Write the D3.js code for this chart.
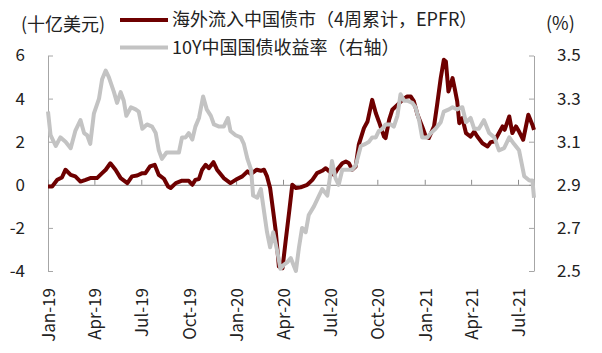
<!DOCTYPE html>
<html>
<head>
<meta charset="utf-8">
<script src="https://cdn.jsdelivr.net/npm/d3@7"></script>
<style>
  body { margin: 0; background: #fff; }
  text { font-family: "Noto Sans CJK SC", "Noto Sans", sans-serif; fill: #222; }
</style>
</head>
<body>
<div id="chart"></div>
<script>
// foreign inflows into China bonds (4wk cumulative, bn USD) and 10Y CGB yield (%)
var flowDates = ["2019-01-01","2019-01-09","2019-01-19","2019-01-28","2019-02-04","2019-02-14","2019-02-23","2019-03-05","2019-03-15","2019-03-24",
  "2019-04-06","2019-04-16","2019-04-23","2019-05-02","2019-05-12","2019-05-22","2019-06-04","2019-06-13","2019-06-23","2019-07-03",
  "2019-07-09","2019-07-18","2019-07-27","2019-08-04","2019-08-14","2019-08-22","2019-08-27","2019-09-06","2019-09-18","2019-10-01",
  "2019-10-08","2019-10-14","2019-10-21","2019-10-27","2019-11-03","2019-11-09","2019-11-18","2019-11-25","2019-12-08","2019-12-21",
  "2019-12-31","2020-01-13","2020-01-23","2020-01-30","2020-02-10","2020-02-18","2020-02-24","2020-03-01","2020-03-07","2020-03-13",
  "2020-03-18","2020-03-24","2020-03-31","2020-04-06","2020-04-13","2020-04-19","2020-04-26","2020-05-05","2020-05-18","2020-05-28",
  "2020-06-06","2020-06-16","2020-06-23","2020-06-30","2020-07-09","2020-07-15","2020-07-25","2020-08-01","2020-08-07","2020-08-13",
  "2020-08-20","2020-08-26","2020-09-05","2020-09-12","2020-09-21","2020-09-28","2020-10-04","2020-10-14","2020-10-17","2020-10-24",
  "2020-10-30","2020-11-09","2020-11-19","2020-11-28","2020-12-05","2020-12-11","2020-12-18","2020-12-27","2021-01-03","2021-01-09",
  "2021-01-19","2021-01-25","2021-02-01","2021-02-07","2021-02-11","2021-02-16","2021-02-24","2021-02-28","2021-03-05","2021-03-09",
  "2021-03-15","2021-03-22","2021-03-31","2021-04-07","2021-04-13","2021-04-23","2021-05-03","2021-05-09","2021-05-16","2021-05-25",
  "2021-06-01","2021-06-05","2021-06-14","2021-06-20","2021-06-27","2021-07-03","2021-07-11","2021-07-21","2021-07-29","2021-08-01"]
var flowValues = [-0.08,-0.08,0.23,0.34,0.70,0.46,0.39,0.15,0.23,0.31,
  0.31,0.54,0.70,1.00,0.70,0.31,0.08,0.39,0.43,0.54,
  0.54,0.85,0.93,0.46,0.28,-0.08,-0.15,0.08,0.19,0.19,
  0.00,0.23,0.27,0.70,0.93,0.77,1.05,0.70,0.31,0.08,
  0.23,0.39,0.62,0.50,0.70,0.65,0.70,0.39,-0.15,-1.24,
  -2.17,-3.79,-3.87,-2.63,-1.24,0.00,-0.15,-0.12,0.00,0.23,
  0.54,0.65,0.77,0.62,0.46,0.70,1.00,1.08,1.00,0.70,
  0.85,1.86,2.63,2.94,3.94,3.33,2.94,2.24,2.17,3.02,
  3.48,3.71,3.94,4.10,4.10,3.87,3.25,2.71,2.24,2.17,
  2.71,3.71,4.95,5.80,5.72,4.33,4.95,4.49,3.87,2.86,
  3.09,2.40,2.24,2.47,2.24,1.93,1.78,1.98,2.01,2.40,
  2.71,2.55,3.17,2.40,2.71,2.47,2.09,3.25,2.78,2.55]

var yieldDates = ["2019-01-01","2019-01-06","2019-01-16","2019-01-25","2019-02-04","2019-02-14","2019-02-23","2019-03-05","2019-03-12","2019-03-18",
  "2019-03-24","2019-03-31","2019-04-10","2019-04-16","2019-04-23","2019-04-29","2019-05-09","2019-05-15","2019-05-22","2019-05-28",
  "2019-06-02","2019-06-11","2019-06-20","2019-06-26","2019-07-03","2019-07-12","2019-07-22","2019-07-29","2019-08-04","2019-08-10",
  "2019-08-19","2019-08-27","2019-09-06","2019-09-12","2019-09-18","2019-09-25","2019-10-01","2019-10-08","2019-10-14","2019-10-21",
  "2019-10-29","2019-11-05","2019-11-13","2019-11-19","2019-11-29","2019-12-08","2019-12-16","2019-12-21","2019-12-31","2020-01-10",
  "2020-01-16","2020-01-23","2020-01-30","2020-02-03","2020-02-11","2020-02-18","2020-02-24","2020-03-01","2020-03-07","2020-03-13",
  "2020-03-21","2020-03-27","2020-04-03","2020-04-09","2020-04-16","2020-04-26","2020-05-02","2020-05-08","2020-05-15","2020-05-21",
  "2020-05-31","2020-06-06","2020-06-16","2020-06-26","2020-07-02","2020-07-05","2020-07-12","2020-07-18","2020-07-25","2020-08-13",
  "2020-08-20","2020-08-30","2020-09-08","2020-09-15","2020-09-21","2020-09-28","2020-10-04","2020-10-11","2020-10-17","2020-10-27",
  "2020-11-02","2020-11-09","2020-11-15","2020-11-22","2020-11-28","2020-12-08","2020-12-14","2020-12-21","2020-12-27","2021-01-06",
  "2021-01-13","2021-01-22","2021-02-01","2021-02-07","2021-02-17","2021-02-24","2021-03-05","2021-03-15","2021-03-22","2021-03-31",
  "2021-04-07","2021-04-16","2021-04-26","2021-05-06","2021-05-16","2021-05-25","2021-06-04","2021-06-14","2021-06-23","2021-07-03",
  "2021-07-13","2021-07-23","2021-07-29","2021-08-01"]
var yieldValues = [3.24,3.13,3.08,3.12,3.10,3.07,3.15,3.20,3.14,3.13,
  3.09,3.23,3.30,3.39,3.43,3.40,3.33,3.28,3.33,3.29,
  3.22,3.26,3.25,3.24,3.16,3.18,3.17,3.14,3.06,3.02,
  3.05,3.05,3.05,3.05,3.12,3.12,3.14,3.11,3.17,3.21,
  3.31,3.25,3.22,3.18,3.17,3.17,3.21,3.15,3.13,3.12,
  3.09,3.02,2.97,2.85,2.84,2.88,2.78,2.68,2.61,2.68,
  2.59,2.51,2.53,2.54,2.56,2.50,2.61,2.70,2.68,2.76,
  2.80,2.83,2.88,2.85,2.95,3.01,2.93,2.90,2.97,2.97,
  2.99,3.08,3.09,3.10,3.12,3.12,3.15,3.16,3.18,3.18,
  3.17,3.22,3.32,3.29,3.29,3.28,3.26,3.20,3.12,3.12,
  3.14,3.16,3.19,3.24,3.25,3.26,3.25,3.26,3.19,3.21,
  3.16,3.16,3.20,3.14,3.12,3.06,3.07,3.12,3.09,3.06,
  2.94,2.92,2.92,2.84]

var leftTicks = [-4, -2, 0, 2, 4, 6]
var rightTicks = [2.5, 2.7, 2.9, 3.1, 3.3, 3.5]
var legendLabels = ["海外流入中国债市（4周累计，EPFR）", "10Y中国国债收益率（右轴）"]

var parseDate = d3.timeParse("%Y-%m-%d")
var flowData = flowDates.map((d, i) => ({date: parseDate(d), value: flowValues[i]}))
var yieldData = yieldDates.map((d, i) => ({date: parseDate(d), value: yieldValues[i]}))

var svgWidth = 602
var svgHeight = 353
var margin = {top: 55.5, bottom: 82, left: 48, right: 68}

var svg = d3.select("#chart")
    .append("svg")
    .attr("width", svgWidth)
    .attr("height", svgHeight)

var chartWidth = svgWidth - margin.left - margin.right
var chartHeight = svgHeight - margin.top - margin.bottom

var chartGroup = svg.append("g")
    .attr("transform", `translate(${margin.left}, ${margin.top})`)

var xScale = d3.scaleTime()
    .domain([parseDate("2019-01-01"), parseDate("2021-08-01")])
    .range([0, chartWidth])

var yLeft = d3.scaleLinear().domain([-4, 6]).range([chartHeight, 0])
var yRight = d3.scaleLinear().domain([2.5, 3.5]).range([chartHeight, 0])

var quarterTicks = d3.timeMonth.every(3).range(parseDate("2019-01-01"), parseDate("2021-07-02"))
var axisColor = "#a6a6a6"

// left axis, ticks pointing inward (plain hyphen for negatives)
var leftAxis = chartGroup.append("g")
    .call(d3.axisLeft(yLeft).tickValues(leftTicks).tickFormat(d => String(d))
        .tickSizeInner(-5).tickSizeOuter(0).tickPadding(23))
leftAxis.selectAll("text").attr("font-size", 17).style("font-family", "Noto Sans CJK SC")

// right axis
var rightAxis = chartGroup.append("g")
    .attr("transform", `translate(${chartWidth}, 0)`)
    .call(d3.axisRight(yRight).tickValues(rightTicks).tickFormat(d => d.toFixed(1))
        .tickSizeInner(-5).tickSizeOuter(0).tickPadding(23))
rightAxis.selectAll("text").attr("font-size", 17).style("font-family", "Noto Sans CJK SC")

// zero line with quarter ticks
var zeroAxis = chartGroup.append("g")
    .attr("transform", `translate(0, ${yLeft(0)})`)
    .call(d3.axisBottom(xScale).tickValues(quarterTicks).tickFormat("").tickSizeInner(-5).tickSizeOuter(0))

;[leftAxis, rightAxis].forEach(a => {
    a.selectAll("path, line").attr("stroke", axisColor)
})
zeroAxis.selectAll("path, line").attr("stroke", "#8c8c8c")

// x labels, rotated, at the bottom
chartGroup.append("g")
    .selectAll("text")
    .data(quarterTicks)
    .enter()
    .append("text")
    .attr("transform", d => `translate(${xScale(d) + 1}, ${chartHeight + 17}) rotate(-90)`)
    .attr("text-anchor", "end")
    .attr("dy", "0.35em")
    .attr("font-size", 17)
    .text(d3.timeFormat("%b-%y"))

// lines
var flowLine = d3.line().x(d => xScale(d.date)).y(d => yLeft(d.value))
var yieldLine = d3.line().x(d => xScale(d.date)).y(d => yRight(d.value))

chartGroup.append("path")
    .datum(flowData)
    .attr("fill", "none")
    .attr("stroke", "#6e0000")
    .attr("stroke-width", 4)
    .attr("stroke-linejoin", "round")
    .attr("d", flowLine)

chartGroup.append("path")
    .datum(yieldData)
    .attr("fill", "none")
    .attr("stroke", "#c3c3c3")
    .attr("stroke-width", 4)
    .attr("stroke-linejoin", "round")
    .attr("d", yieldLine)

// unit labels
svg.append("text").attr("x", 21).attr("y", 31).attr("font-size", 18).text("(十亿美元)")
svg.append("text").attr("x", 546).attr("y", 30).attr("font-size", 18).text("(%)")

// legend
var legendColors = ["#6e0000", "#c3c3c3"]
var legend = svg.append("g")
legendLabels.forEach((label, i) => {
    var y = 20 + i * 27.5
    legend.append("line")
        .attr("x1", 120).attr("x2", 168)
        .attr("y1", y).attr("y2", y)
        .attr("stroke", legendColors[i])
        .attr("stroke-width", 4)
    legend.append("text")
        .attr("x", 172)
        .attr("y", y)
        .attr("dy", "0.35em")
        .attr("font-size", 18)
        .text(label)
})
</script>
</body>
</html>
